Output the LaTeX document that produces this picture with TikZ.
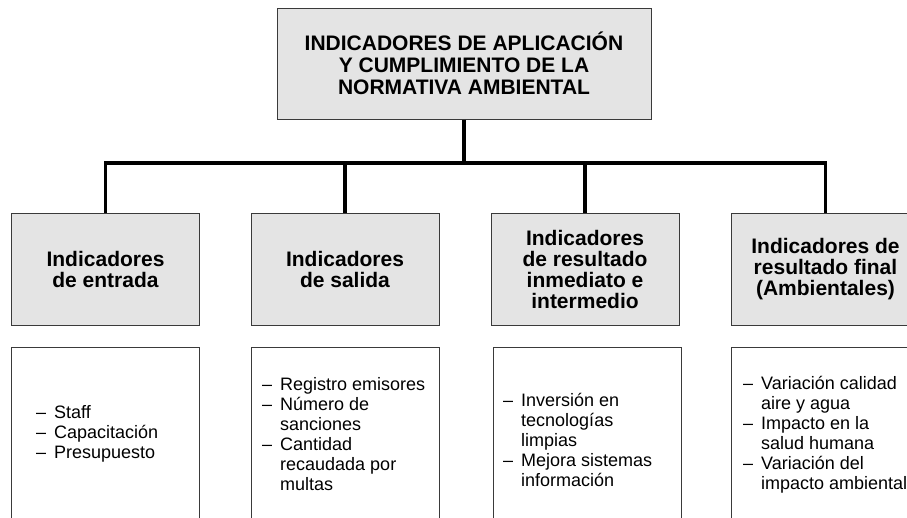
\documentclass[tikz,border=0pt]{standalone}
\usepackage{fontspec}
\setmainfont{Liberation Sans}
\definecolor{boxgray}{HTML}{E4E4E4}
\definecolor{boxline}{HTML}{3A3A3A}
\newcommand{\lsitem}[1]{\makebox[18pt][l]{–}#1}
\newcommand{\lscont}[1]{\hspace*{18pt}#1}
\begin{document}
\begin{tikzpicture}[x=1pt,y=-1pt,
  hbox/.style={draw=boxline, line width=1pt, fill=boxgray, minimum width=188pt,
    minimum height=112pt, inner sep=0pt, align=center,
    font=\bfseries\fontsize{21}{21}\selectfont},
  lbox/.style={draw=boxline, line width=1pt, fill=white, minimum width=188pt,
    minimum height=175pt, inner sep=0pt},
  ltext/.style={anchor=west, align=left, inner sep=0pt,
    font=\fontsize{18}{20}\selectfont},
  conn/.style={line width=3.5pt, black}]
\useasboundingbox (0,0) rectangle (907,517);
\clip (0,0) rectangle (907,517);
\fill[white] (0,0) rectangle (907,517);

\node[hbox, minimum width=374pt, minimum height=111pt,
  font=\bfseries\fontsize{21}{22}\selectfont] (top) at (464,63.5)
  {INDICADORES DE APLICACIÓN\\Y CUMPLIMIENTO DE LA\\NORMATIVA AMBIENTAL};

\node[hbox] (h1) at (105.5,269) {Indicadores\\de entrada};
\node[hbox] (h2) at (345,269) {Indicadores\\de salida};
\node[hbox] (h3) at (585,269) {Indicadores\\de resultado\\inmediato e\\intermedio};
\node[hbox] (h4) at (825.5,269) {Indicadores de\\resultado final\\(Ambientales)};

\node[lbox] (l1) at (105.5,434.5) {};
\node[lbox] (l2) at (345.5,434.5) {};
\node[lbox] (l3) at (587,434.5) {};
\node[lbox] (l4) at (825,434.5) {};

\node[ltext] (t1) at (36,434) {\lsitem{Staff}\\\lsitem{Capacitación}\\\lsitem{Presupuesto}};
\node[ltext] (t2) at (262,434.5) {\lsitem{Registro emisores}\\\lsitem{Número de}\\\lscont{sanciones}\\\lsitem{Cantidad}\\\lscont{recaudada por}\\\lscont{multas}};
\node[ltext] (t3) at (503,440) {\lsitem{Inversión en}\\\lscont{tecnologías}\\\lscont{limpias}\\\lsitem{Mejora sistemas}\\\lscont{información}};
\node[ltext] (t4) at (743,434.5) {\lsitem{Variación calidad}\\\lscont{aire y agua}\\\lsitem{Impacto en la}\\\lscont{salud humana}\\\lsitem{Variación del}\\\lscont{impacto ambiental}};

\coordinate (bar) at (464,163);
\draw[conn] (top.south) -- (top.south |- bar);
\draw[conn] (h1.north) -- (h1.north |- bar) -- (h4.north |- bar) -- (h4.north);
\draw[conn] (h2.north) -- (h2.north |- bar);
\draw[conn] (h3.north) -- (h3.north |- bar);
\end{tikzpicture}
\end{document}
